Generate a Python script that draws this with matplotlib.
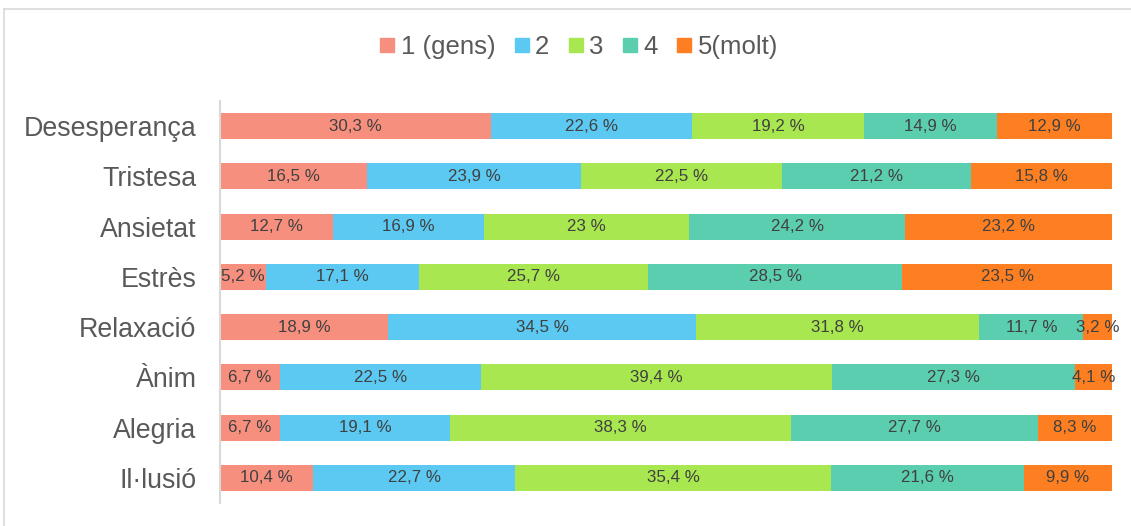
import numpy as np
import matplotlib
matplotlib.use("Agg")
from matplotlib import pyplot as plt
from matplotlib.lines import Line2D

categories = ["Desesperança", "Tristesa", "Ansietat", "Estrès",
              "Relaxació", "Ànim", "Alegria", "Il·lusió"]
series_names = ["1 (gens)", "2", "3", "4", "5(molt)"]
s1 = [30.3, 16.5, 12.7, 5.2, 18.9, 6.7, 6.7, 10.4]
s2 = [22.6, 23.9, 16.9, 17.1, 34.5, 22.5, 19.1, 22.7]
s3 = [19.2, 22.5, 23.0, 25.7, 31.8, 39.4, 38.3, 35.4]
s4 = [14.9, 21.2, 24.2, 28.5, 11.7, 27.3, 27.7, 21.6]
s5 = [12.9, 15.8, 23.2, 23.5, 3.2, 4.1, 8.3, 9.9]
colors = ["#F78F7E", "#5BC9F1", "#A8E74F", "#5CCEB0", "#FD7F21"]

plt.rcParams['font.family'] = ['Liberation Sans', 'DejaVu Sans']

data = np.array([s1, s2, s3, s4, s5])
totals = data.sum(axis=0)
shares = data / totals * 100

fig = plt.figure(figsize=(11.31, 5.26), dpi=100)
ax = fig.add_axes([0.1946, 0.0437, 0.7886, 0.7643])

y = np.arange(len(categories))
left = np.zeros(len(categories))
for i in range(5):
    ax.barh(y, shares[i], left=left, height=0.52, color=colors[i], edgecolor='none')
    for j in range(len(categories)):
        txt = ("%g" % data[i][j]).replace(".", ",") + " %"
        ax.text(left[j] + shares[i][j] / 2, y[j], txt, ha='center', va='center',
                fontsize=12.2, color='#404040')
    left += shares[i]

ax.set_xlim(0, 100)
ax.set_ylim(len(categories) - 0.5, -0.5)
ax.set_yticks(y)
ax.set_yticklabels(categories, fontsize=19.3, color='#595959')
ax.set_xticks([])
ax.tick_params(axis='y', length=0, pad=17)
for s in ['top', 'right', 'bottom']:
    ax.spines[s].set_visible(False)
ax.spines['left'].set_color('#D9D9D9')
ax.spines['left'].set_linewidth(1.5)

handles = [Line2D([], [], marker='s', linestyle='none', markersize=10,
                  color=c) for c in colors]
fig.legend(handles, series_names, loc='center', bbox_to_anchor=(0.512, 0.91),
           ncol=5, frameon=False, fontsize=18.5, handlelength=0.55,
           handletextpad=0.25, columnspacing=0.75, labelcolor='#595959')

# chart border
fig.add_artist(Line2D([0.0035, 1.0], [0.9835, 0.9835], color='#D9D9D9', lw=1.2))
fig.add_artist(Line2D([0.0035, 0.0035], [0.0, 0.9835], color='#D9D9D9', lw=1.2))

fig.savefig("out.png", dpi=100)
